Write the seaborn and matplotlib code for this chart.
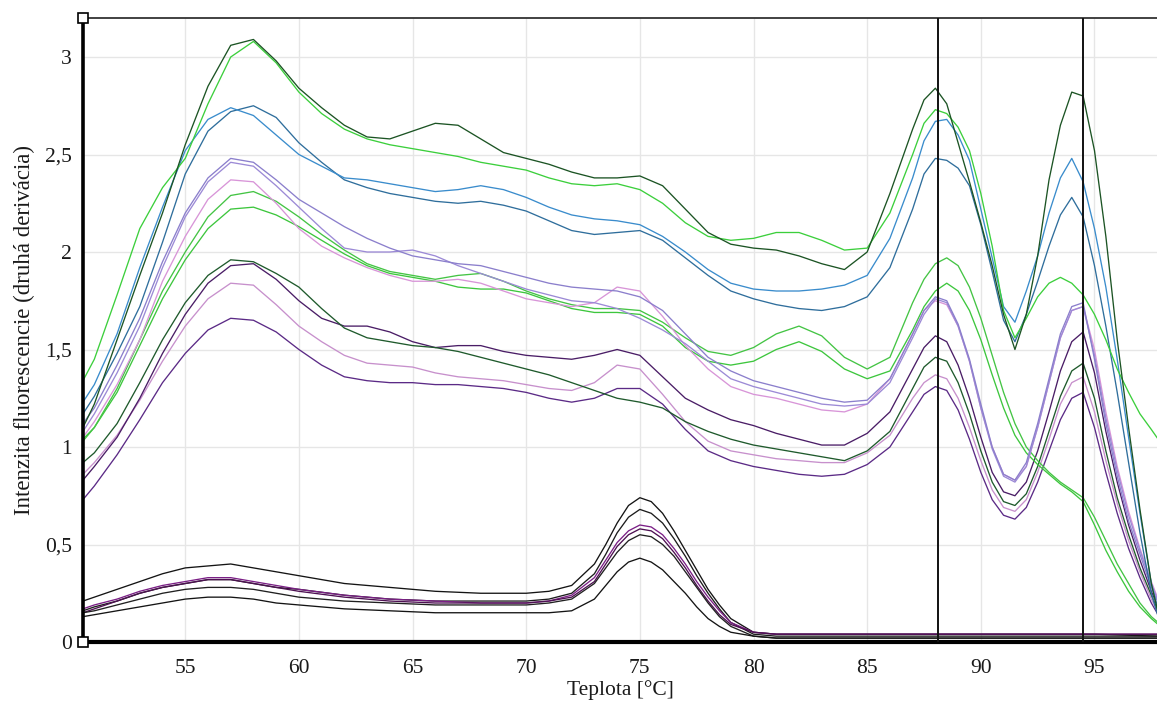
import numpy as np
import pandas as pd
import seaborn as sns
import matplotlib
matplotlib.use("Agg")
import matplotlib.pyplot as plt

# Temperature grid for the upper family of melt curves
X_MAIN = [50.5, 51, 52, 53, 54, 55, 56, 57, 58, 59,
          60, 61, 62, 63, 64, 65, 66, 67, 68, 69,
          70, 71, 72, 73, 74, 75, 76, 77, 78, 79,
          80, 81, 82, 83, 84, 85, 86, 87, 87.5, 88,
          88.5, 89, 89.5, 90, 90.5, 91, 91.5, 92, 92.5, 93,
          93.5, 94, 94.5, 95, 95.5, 96, 96.5, 97, 97.5, 97.8]

dark_green_1 = [1.10, 1.22, 1.55, 1.88, 2.20, 2.55, 2.85, 3.06, 3.09, 2.98,
                2.84, 2.74, 2.65, 2.59, 2.58, 2.62, 2.66, 2.65, 2.58, 2.51,
                2.48, 2.45, 2.41, 2.38, 2.38, 2.39, 2.34, 2.22, 2.10, 2.04,
                2.02, 2.01, 1.98, 1.94, 1.91, 2.00, 2.30, 2.63, 2.78, 2.84,
                2.76, 2.56, 2.36, 2.15, 1.93, 1.68, 1.50, 1.68, 1.98, 2.37,
                2.65, 2.82, 2.80, 2.52, 2.08, 1.55, 1.10, 0.68, 0.30, 0.15]
bright_green = [1.34, 1.45, 1.78, 2.12, 2.33, 2.48, 2.76, 3.00, 3.08, 2.97,
                2.82, 2.71, 2.63, 2.58, 2.55, 2.53, 2.51, 2.49, 2.46, 2.44,
                2.42, 2.38, 2.35, 2.34, 2.35, 2.32, 2.25, 2.15, 2.08, 2.06,
                2.07, 2.10, 2.10, 2.06, 2.01, 2.02, 2.20, 2.50, 2.66, 2.73,
                2.71, 2.64, 2.52, 2.30, 2.03, 1.70, 1.56, 1.66, 1.77, 1.84,
                1.87, 1.84, 1.78, 1.68, 1.55, 1.40, 1.28, 1.17, 1.09, 1.04]
blue_1 = [1.23, 1.32, 1.58, 1.92, 2.23, 2.52, 2.68, 2.74, 2.70, 2.60,
          2.50, 2.44, 2.38, 2.37, 2.35, 2.33, 2.31, 2.32, 2.34, 2.32,
          2.28, 2.23, 2.19, 2.17, 2.16, 2.14, 2.08, 2.00, 1.91, 1.84,
          1.81, 1.80, 1.80, 1.81, 1.83, 1.88, 2.07, 2.38, 2.57, 2.67,
          2.68, 2.60, 2.47, 2.22, 1.97, 1.72, 1.64, 1.80, 1.98, 2.20,
          2.38, 2.48, 2.36, 2.12, 1.82, 1.45, 1.05, 0.66, 0.30, 0.16]
blue_2 = [1.17, 1.26, 1.48, 1.72, 2.05, 2.40, 2.62, 2.72, 2.75, 2.69,
          2.56, 2.46, 2.37, 2.33, 2.30, 2.28, 2.26, 2.25, 2.26, 2.24,
          2.21, 2.16, 2.11, 2.09, 2.10, 2.11, 2.06, 1.97, 1.88, 1.80,
          1.76, 1.73, 1.71, 1.70, 1.72, 1.77, 1.92, 2.22, 2.40, 2.48,
          2.47, 2.43, 2.34, 2.14, 1.90, 1.65, 1.54, 1.68, 1.85, 2.03,
          2.19, 2.28, 2.18, 1.93, 1.62, 1.28, 0.92, 0.56, 0.25, 0.13]
lavender_1 = [1.12, 1.20, 1.42, 1.66, 1.95, 2.20, 2.38, 2.48, 2.46, 2.37,
              2.27, 2.20, 2.13, 2.07, 2.02, 1.98, 1.96, 1.94, 1.93, 1.90,
              1.87, 1.84, 1.82, 1.81, 1.80, 1.77, 1.70, 1.58, 1.46, 1.39,
              1.34, 1.31, 1.28, 1.25, 1.23, 1.24, 1.35, 1.58, 1.70, 1.77,
              1.75, 1.63, 1.45, 1.22, 1.00, 0.86, 0.83, 0.92, 1.12, 1.35,
              1.58, 1.72, 1.74, 1.45, 1.12, 0.85, 0.62, 0.45, 0.28, 0.20]
lavender_2 = [1.08, 1.17, 1.38, 1.62, 1.92, 2.18, 2.36, 2.46, 2.44, 2.34,
              2.23, 2.12, 2.02, 2.00, 2.00, 2.01, 1.98, 1.93, 1.89, 1.85,
              1.81, 1.78, 1.75, 1.74, 1.71, 1.66, 1.60, 1.53, 1.44, 1.35,
              1.31, 1.28, 1.25, 1.22, 1.21, 1.22, 1.33, 1.56, 1.68, 1.76,
              1.74, 1.62, 1.44, 1.20, 0.99, 0.85, 0.82, 0.90, 1.10, 1.33,
              1.56, 1.70, 1.72, 1.47, 1.15, 0.88, 0.65, 0.47, 0.30, 0.21]
pink_1 = [1.05, 1.13, 1.32, 1.55, 1.85, 2.08, 2.27, 2.37, 2.36, 2.25,
          2.12, 2.03, 1.97, 1.92, 1.88, 1.85, 1.85, 1.86, 1.84, 1.80,
          1.76, 1.74, 1.72, 1.74, 1.82, 1.80, 1.67, 1.52, 1.40, 1.31,
          1.27, 1.25, 1.22, 1.19, 1.18, 1.22, 1.35, 1.58, 1.70, 1.75,
          1.73, 1.62, 1.44, 1.20, 1.00, 0.86, 0.83, 0.90, 1.10, 1.33,
          1.56, 1.70, 1.72, 1.50, 1.18, 0.90, 0.67, 0.48, 0.31, 0.22]
green_1 = [1.03, 1.10, 1.30, 1.55, 1.80, 2.00, 2.18, 2.29, 2.31, 2.26,
           2.18, 2.09, 2.01, 1.94, 1.90, 1.88, 1.86, 1.88, 1.89, 1.85,
           1.80, 1.76, 1.73, 1.71, 1.71, 1.70, 1.64, 1.56, 1.49, 1.47,
           1.51, 1.58, 1.62, 1.57, 1.46, 1.40, 1.46, 1.74, 1.86, 1.94,
           1.97, 1.93, 1.82, 1.66, 1.47, 1.28, 1.12, 1.00, 0.93, 0.87,
           0.82, 0.78, 0.74, 0.64, 0.52, 0.40, 0.30, 0.20, 0.13, 0.10]
green_2 = [1.04, 1.10, 1.28, 1.52, 1.76, 1.96, 2.12, 2.22, 2.23, 2.19,
           2.13, 2.06, 1.99, 1.93, 1.89, 1.87, 1.85, 1.82, 1.81, 1.81,
           1.79, 1.75, 1.71, 1.69, 1.69, 1.68, 1.62, 1.51, 1.44, 1.42,
           1.44, 1.50, 1.54, 1.49, 1.40, 1.35, 1.39, 1.60, 1.72, 1.80,
           1.84, 1.80, 1.70, 1.55, 1.37, 1.20, 1.06, 0.97, 0.91, 0.86,
           0.81, 0.77, 0.72, 0.60, 0.47, 0.36, 0.26, 0.18, 0.12, 0.09]
dark_green_2 = [0.92, 0.97, 1.12, 1.33, 1.55, 1.74, 1.88, 1.96, 1.95, 1.89,
                1.82, 1.71, 1.61, 1.56, 1.54, 1.52, 1.51, 1.49, 1.46, 1.43,
                1.40, 1.37, 1.33, 1.29, 1.25, 1.23, 1.20, 1.13, 1.08, 1.04,
                1.01, 0.99, 0.97, 0.95, 0.93, 0.98, 1.08, 1.30, 1.41, 1.46,
                1.44, 1.33, 1.17, 0.98, 0.82, 0.72, 0.70, 0.76, 0.90, 1.08,
                1.26, 1.39, 1.43, 1.25, 0.98, 0.74, 0.55, 0.38, 0.24, 0.16]
dark_purple = [0.83, 0.90, 1.05, 1.25, 1.48, 1.68, 1.84, 1.93, 1.94, 1.86,
               1.75, 1.66, 1.62, 1.62, 1.59, 1.54, 1.51, 1.52, 1.52, 1.49,
               1.47, 1.46, 1.45, 1.47, 1.50, 1.47, 1.36, 1.25, 1.19, 1.14,
               1.11, 1.07, 1.04, 1.01, 1.01, 1.07, 1.18, 1.40, 1.51, 1.57,
               1.54, 1.42, 1.25, 1.05, 0.87, 0.77, 0.75, 0.82, 0.98, 1.18,
               1.39, 1.54, 1.59, 1.38, 1.08, 0.82, 0.60, 0.42, 0.26, 0.18]
pink_2 = [0.86, 0.92, 1.06, 1.24, 1.44, 1.62, 1.76, 1.84, 1.83, 1.73,
          1.62, 1.54, 1.47, 1.43, 1.42, 1.41, 1.38, 1.36, 1.35, 1.34,
          1.32, 1.30, 1.29, 1.33, 1.42, 1.40, 1.27, 1.13, 1.03, 0.98,
          0.96, 0.94, 0.93, 0.92, 0.92, 0.97, 1.06, 1.25, 1.33, 1.37,
          1.35, 1.25, 1.10, 0.93, 0.78, 0.69, 0.67, 0.73, 0.87, 1.04,
          1.22, 1.33, 1.36, 1.18, 0.93, 0.71, 0.52, 0.36, 0.22, 0.15]
purple = [0.73, 0.80, 0.96, 1.14, 1.33, 1.48, 1.60, 1.66, 1.65, 1.59,
          1.50, 1.42, 1.36, 1.34, 1.33, 1.33, 1.32, 1.32, 1.31, 1.30,
          1.28, 1.25, 1.23, 1.25, 1.30, 1.30, 1.22, 1.09, 0.98, 0.93,
          0.90, 0.88, 0.86, 0.85, 0.86, 0.91, 1.00, 1.18, 1.27, 1.31,
          1.29, 1.19, 1.04, 0.87, 0.73, 0.65, 0.63, 0.69, 0.82, 0.98,
          1.14, 1.25, 1.28, 1.10, 0.87, 0.66, 0.48, 0.33, 0.20, 0.14]

# Temperature grid for the low family (single peak near 75 °C)
X_LOW = [50.5, 51, 52, 53, 54, 55, 56, 57, 58, 59, 60,
         62, 64, 66, 68, 70,
         71, 72, 73,
         73.5, 74, 74.5, 75, 75.5, 76, 76.5, 77, 77.5, 78, 78.5, 79,
         80, 81,
         85, 90, 95, 97.8]

low_black_1 = [0.21, 0.23, 0.27, 0.31, 0.35, 0.38, 0.39, 0.40, 0.38, 0.36, 0.34,
               0.30, 0.28, 0.26, 0.25, 0.25,
               0.26, 0.29, 0.40,
               0.50, 0.61, 0.70, 0.74, 0.72, 0.66, 0.57, 0.47, 0.37, 0.27, 0.19, 0.12,
               0.05, 0.04,
               0.04, 0.04, 0.04, 0.03]
low_black_2 = [0.16, 0.18, 0.21, 0.25, 0.28, 0.30, 0.32, 0.32, 0.30, 0.28, 0.27,
               0.24, 0.22, 0.21, 0.21, 0.21,
               0.22, 0.25, 0.35,
               0.45, 0.56, 0.64, 0.68, 0.66, 0.61, 0.53, 0.44, 0.34, 0.25, 0.17, 0.10,
               0.04, 0.03,
               0.03, 0.03, 0.03, 0.03]
low_purple_1 = [0.17, 0.19, 0.22, 0.26, 0.29, 0.31, 0.33, 0.33, 0.31, 0.29, 0.27,
                0.24, 0.22, 0.21, 0.20, 0.20,
                0.21, 0.24, 0.33,
                0.42, 0.51, 0.57, 0.60, 0.59, 0.55, 0.48, 0.40, 0.31, 0.23, 0.16, 0.10,
                0.05, 0.04,
                0.04, 0.04, 0.04, 0.04]
low_purple_2 = [0.15, 0.17, 0.21, 0.25, 0.28, 0.30, 0.32, 0.32, 0.30, 0.28, 0.26,
                0.23, 0.21, 0.20, 0.20, 0.20,
                0.21, 0.23, 0.31,
                0.40, 0.49, 0.55, 0.58, 0.57, 0.53, 0.46, 0.38, 0.29, 0.21, 0.14, 0.09,
                0.05, 0.04,
                0.04, 0.04, 0.04, 0.04]
low_black_3 = [0.15, 0.16, 0.19, 0.22, 0.25, 0.27, 0.28, 0.28, 0.27, 0.25, 0.23,
               0.21, 0.20, 0.19, 0.19, 0.19,
               0.20, 0.22, 0.30,
               0.38, 0.46, 0.52, 0.55, 0.54, 0.50, 0.44, 0.36, 0.28, 0.20, 0.13, 0.08,
               0.03, 0.02,
               0.02, 0.02, 0.02, 0.02]
low_black_4 = [0.13, 0.14, 0.16, 0.18, 0.20, 0.22, 0.23, 0.23, 0.22, 0.20, 0.19,
               0.17, 0.16, 0.15, 0.15, 0.15,
               0.15, 0.16, 0.22,
               0.29, 0.36, 0.41, 0.43, 0.41, 0.37, 0.31, 0.25, 0.18, 0.12, 0.08, 0.05,
               0.03, 0.02,
               0.02, 0.02, 0.02, 0.02]

Y_TICKS = [0, 0.5, 1, 1.5, 2, 2.5, 3]
Y_TICK_LABELS = ["0", "0,5", "1", "1,5", "2", "2,5", "3"]
X_TICKS = [55, 60, 65, 70, 75, 80, 85, 90, 95]
MARKER_TEMPS = [88.1, 94.5]

curves = {
    "low_black_1": (X_LOW, low_black_1, "#141414"),
    "low_black_2": (X_LOW, low_black_2, "#1c1c1c"),
    "low_purple_1": (X_LOW, low_purple_1, "#7b1f86"),
    "low_purple_2": (X_LOW, low_purple_2, "#4d1052"),
    "low_black_3": (X_LOW, low_black_3, "#202020"),
    "low_black_4": (X_LOW, low_black_4, "#141414"),
    "purple": (X_MAIN, purple, "#5b2a86"),
    "pink_2": (X_MAIN, pink_2, "#c790cc"),
    "dark_purple": (X_MAIN, dark_purple, "#4a1d66"),
    "dark_green_2": (X_MAIN, dark_green_2, "#1f5a2c"),
    "green_2": (X_MAIN, green_2, "#3dc63d"),
    "green_1": (X_MAIN, green_1, "#44c444"),
    "pink_1": (X_MAIN, pink_1, "#d895d8"),
    "lavender_2": (X_MAIN, lavender_2, "#9c8ad6"),
    "lavender_1": (X_MAIN, lavender_1, "#8b7fcc"),
    "blue_2": (X_MAIN, blue_2, "#2f6e9c"),
    "blue_1": (X_MAIN, blue_1, "#3a8ccc"),
    "bright_green": (X_MAIN, bright_green, "#3ccf3c"),
    "dark_green_1": (X_MAIN, dark_green_1, "#1c5424"),
}

frames = []
for name, (xs, ys, _) in curves.items():
    frames.append(pd.DataFrame({"Teplota": xs, "Intenzita": ys, "krivka": name}))
df = pd.concat(frames, ignore_index=True)
palette = {name: spec[2] for name, spec in curves.items()}

sns.set_theme(style="white")
plt.rcParams["font.family"] = ["Liberation Serif", "DejaVu Serif"]

fig = plt.figure(figsize=(11.57, 7.09), dpi=100)
ax = fig.add_axes([0.0717, 0.0945, 0.9283, 0.8801])

# light grid behind the curves
for xv in X_TICKS:
    ax.axvline(xv, color="#e6e6e6", lw=1.0, zorder=0)
for yv in Y_TICKS:
    ax.axhline(yv, color="#e6e6e6", lw=1.0, zorder=0)

sns.lineplot(data=df, x="Teplota", y="Intenzita", hue="krivka",
             hue_order=list(curves.keys()), palette=palette,
             estimator=None, sort=False, legend=False, lw=0.95, ax=ax, zorder=2)

for t in MARKER_TEMPS:
    ax.axvline(t, color="#111111", lw=1.4, zorder=3)

ax.set_xlim(50.5, 97.75)
ax.set_ylim(0, 3.2)
ax.set_xticks(X_TICKS)
ax.set_xticklabels([str(v) for v in X_TICKS])
ax.set_yticks(Y_TICKS)
ax.set_yticklabels(Y_TICK_LABELS)
ax.tick_params(axis="both", labelsize=15.5, colors="#1a1a1a", length=4,
               width=1.0, direction="out")
ax.tick_params(axis="x", pad=8)
ax.tick_params(axis="y", pad=4)
ax.set_xlabel("Teplota [°C]", fontsize=15.5, labelpad=2, color="#1a1a1a")
ax.set_ylabel("Intenzita fluorescencie (druhá derivácia)", fontsize=16.5,
              labelpad=7, color="#1a1a1a")

ax.spines["left"].set_linewidth(2.6)
ax.spines["left"].set_color("#000000")
ax.spines["bottom"].set_linewidth(3.0)
ax.spines["bottom"].set_color("#000000")
ax.spines["top"].set_linewidth(1.3)
ax.spines["top"].set_color("#333333")
ax.spines["right"].set_visible(False)

# small square caps at both ends of the value axis
for yv in (0, 3.2):
    ax.plot([50.5], [yv], marker="s", ms=6.5, mfc="white", mec="#000000",
            mew=1.2, clip_on=False, zorder=10)

fig.savefig("out.png", dpi=100)
